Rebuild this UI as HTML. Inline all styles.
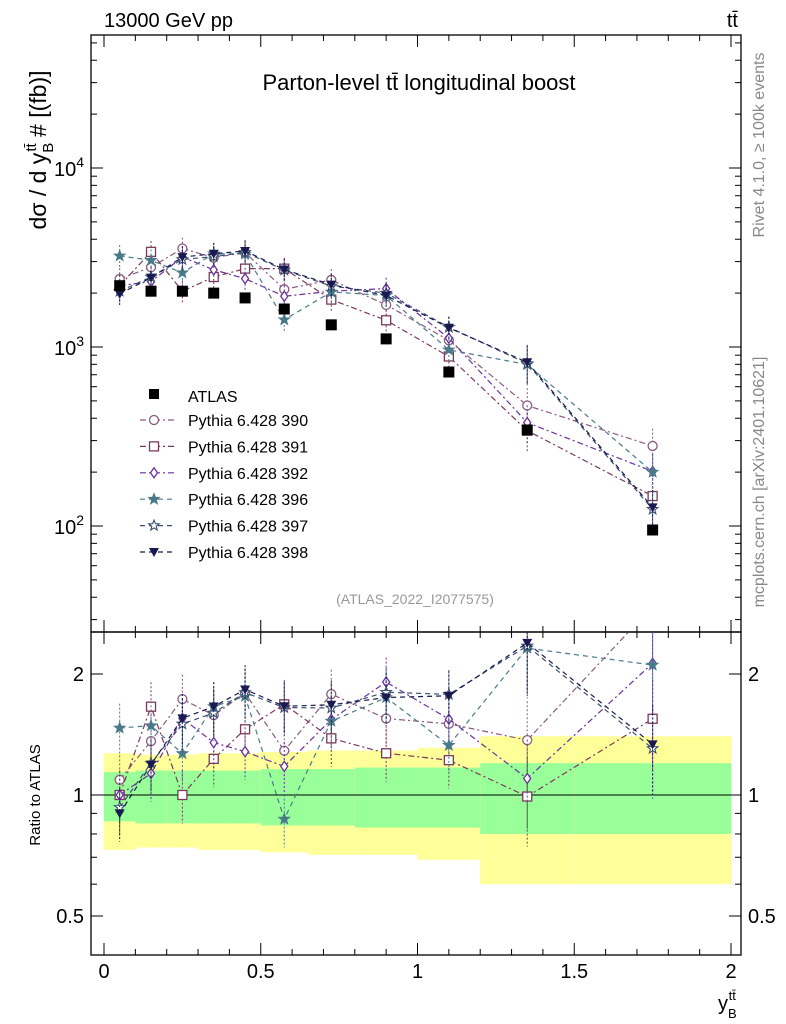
<!DOCTYPE html>
<html><head><meta charset="utf-8"><style>
body{margin:0;background:#fff;}
svg{display:block;font-family:"Liberation Sans",sans-serif;}
</style></head><body>
<svg id="chart" width="786" height="1024" viewBox="0 0 786 1024" xmlns="http://www.w3.org/2000/svg">
<text x="104" y="27" font-size="20">13000 GeV pp</text>
<text x="738" y="27" font-size="20" text-anchor="end">tt̄</text>
<text x="419" y="90" font-size="22" text-anchor="middle">Parton-level tt̄ longitudinal boost</text>
<text x="415" y="604" font-size="14" fill="#999" text-anchor="middle">(ATLAS_2022_I2077575)</text>
<text transform="translate(764,145) rotate(-90)" font-size="16" fill="#888" text-anchor="middle">Rivet 4.1.0, ≥ 100k events</text>
<text transform="translate(764,482) rotate(-90)" font-size="16" fill="#888" text-anchor="middle">mcplots.cern.ch [arXiv:2401.10621]</text>
<text transform="translate(46,150) rotate(-90)" font-size="23" text-anchor="middle">dσ / d y<tspan font-size="15" dy="7">B</tspan><tspan font-size="15" dy="-17" dx="-9">tt̄</tspan><tspan dy="10"> # [(fb)]</tspan></text>
<text transform="translate(40,795) rotate(-90)" font-size="15" text-anchor="middle">Ratio to ATLAS</text>
<text x="718" y="1010" font-size="20">y<tspan font-size="13" dy="8">B</tspan><tspan font-size="13" dy="-18" dx="-8">tt̄</tspan></text>
<g id="g"></g>
</svg>
<script>
const edges=[0,0.1,0.2,0.3,0.4,0.5,0.65,0.8,1.0,1.2,1.5,2.0];
const centers=[0.05,0.15,0.25,0.35,0.45,0.575,0.725,0.9,1.1,1.35,1.75];
const atlas=[2200,2050,2050,2000,1880,1630,1330,1110,725,344,95];
const green=[0.14,0.15,0.15,0.15,0.15,0.16,0.16,0.17,0.17,0.20,0.20];
const yellow=[0.27,0.26,0.26,0.27,0.27,0.28,0.29,0.29,0.31,0.40,0.40];
const s390=[2400,2790,3550,3160,3370,2100,2370,1720,1090,471,280];
const s391=[2200,3400,2050,2460,2740,2740,1840,1410,885,341,147];
const s392=[2200,2320,3180,2700,2410,1920,2050,2120,1120,378,202];
const s396=[3230,3050,2600,3320,3310,1420,2030,1940,964,798,200];
const s397=[2050,2460,3080,3200,3380,2690,2190,2000,1290,808,124];
const s398=[1980,2440,3180,3320,3440,2710,2230,1940,1280,822,127];
const series=[
 {n:'390',v:s390,c:'#8a5a80',m:'circle',d:'6,3,2,3'},
 {n:'391',v:s391,c:'#7a3a5a',m:'square',d:'6,3,2,3'},
 {n:'392',v:s392,c:'#6a30a0',m:'diamond',d:'6,3,2,3'},
 {n:'396',v:s396,c:'#4a7a8a',m:'fstar',d:'5,4'},
 {n:'397',v:s397,c:'#3a5070',m:'ostar',d:'5,4'},
 {n:'398',v:s398,c:'#1a1a50',m:'tri',d:'5,4'}];
const NS='http://www.w3.org/2000/svg';
const g=document.getElementById('g');
function el(t,a,p){const e=document.createElementNS(NS,t);for(const k in a)e.setAttribute(k,a[k]);(p||g).appendChild(e);return e;}
const X=v=>104+v*313.5;
const Y=v=>347-179*Math.log10(v/1000);
const R=v=>795-121*Math.log2(v);
const L=91,Rt=741,T=35,M=632,B=955;
const bands=el('g',{});

for(let i=0;i<centers.length;i++){
 const a=el('rect',{x:X(edges[i]),width:X(edges[i+1])-X(edges[i]),y:R(1+yellow[i]),height:R(1-yellow[i])-R(1+yellow[i]),fill:'#ffff99'},bands);
 
 const b=el('rect',{x:X(edges[i]),width:X(edges[i+1])-X(edges[i]),y:R(1+green[i]),height:R(1-green[i])-R(1+green[i]),fill:'#99ff99'},bands);
 
}
el('line',{x1:L,x2:Rt,y1:R(1),y2:R(1),stroke:'#000','stroke-width':1});
const f1=el('rect',{x:L,y:T,width:Rt-L,height:M-T,fill:'none',stroke:'#000','stroke-width':1.3});

const f2=el('rect',{x:L,y:M,width:Rt-L,height:B-M,fill:'none',stroke:'#000','stroke-width':1.3});

for(let v=0;v<=2.001;v+=0.1){const big=Math.abs(v*2-Math.round(v*2))<1e-6;const h=big?12:6;
 for(const [yb,yt] of [[M,T],[B,M]]){el('line',{x1:X(v),x2:X(v),y1:yb,y2:yb-h,stroke:'#000'});el('line',{x1:X(v),x2:X(v),y1:yt,y2:yt+h,stroke:'#000'});}}
const xt=['0','0.5','1','1.5','2'];
xt.forEach((t,i)=>{const e=el('text',{x:X(i*0.5),y:978,'font-size':20,'text-anchor':'middle'});e.textContent=t;});
for(let d=10;d<=1e5;d*=10)for(let k=1;k<10;k++){const v=d*k;const y=Y(v);if(y<T||y>M)continue;const h=k==1?12:6;
 el('line',{x1:L,x2:L+h,y1:y,y2:y,stroke:'#000'});el('line',{x1:Rt,x2:Rt-h,y1:y,y2:y,stroke:'#000'});}
[2,3,4].forEach(p=>{const e=el('text',{x:84,y:Y(Math.pow(10,p))+8,'font-size':20,'text-anchor':'end'});e.innerHTML='10<tspan font-size="14" dy="-9">'+p+'</tspan>';});
[0.5,0.6,0.7,0.8,0.9,1,2].forEach(v=>{const h=(v==0.5||v==1||v==2)?12:6;const y=R(v);el('line',{x1:L,x2:L+h,y1:y,y2:y,stroke:'#000'});el('line',{x1:Rt,x2:Rt-h,y1:y,y2:y,stroke:'#000'});});
[[2,'2'],[1,'1'],[0.5,'0.5']].forEach(([v,t])=>{for(const [x,a] of [[84,'end'],[748,'start']]){const e=el('text',{x:x,y:R(v)+7,'font-size':20,'text-anchor':a});e.textContent=t;}});
function marker(m,x,y,c,p){
 if(m=='circle')return el('circle',{cx:x,cy:y,r:4.5,fill:'#fff',stroke:c,'stroke-width':1.3},p);
 if(m=='square')return el('rect',{x:x-4.5,y:y-4.5,width:9,height:9,fill:'#fff',stroke:c,'stroke-width':1.3},p);
 if(m=='diamond')return el('path',{d:`M${x},${y-5}L${x+3.5},${y}L${x},${y+5}L${x-3.5},${y}Z`,fill:'#fff',stroke:c,'stroke-width':1.3},p);
 if(m=='tri')return el('path',{d:`M${x-5},${y-4}L${x+5},${y-4}L${x},${y+5}Z`,fill:c},p);
 let d='';for(let k=0;k<10;k++){const r=k%2?2.3:5.5,a=-Math.PI/2+k*Math.PI/5;d+=(k?'L':'M')+(x+r*Math.cos(a)).toFixed(1)+','+(y+r*Math.sin(a)).toFixed(1);}d+='Z';
 return el('path',{d:d,fill:m=='fstar'?c:'#fff',stroke:c,'stroke-width':1.1},p);
}
const clip=el('clipPath',{id:'cm'});el('rect',{x:L,y:T,width:Rt-L,height:M-T},clip);
const clip2=el('clipPath',{id:'cr'});el('rect',{x:L,y:M,width:Rt-L,height:B-M},clip2);
series.forEach(s=>{
 const gm=el('g',{'clip-path':'url(#cm)'});
 const gr=el('g',{'clip-path':'url(#cr)'});
 const pm=[],pr=[];
 s.v.forEach((v,i)=>{const e=i>=9?0.25:0.15;const x=X(centers[i]);
  pm.push(x+','+Y(v));const r=v/atlas[i];pr.push(x+','+R(r));
  el('line',{x1:x,x2:x,y1:Y(v*(1+e)),y2:Y(v*(1-e)),stroke:s.c,'stroke-dasharray':'2,2'},gm);
  el('line',{x1:x,x2:x,y1:R(r*(1+e)),y2:R(r*(1-e)),stroke:s.c,'stroke-dasharray':'2,2'},gr);
 });
 el('polyline',{points:pm.join(' '),fill:'none',stroke:s.c,'stroke-width':1.2,'stroke-dasharray':s.d},gm);
 el('polyline',{points:pr.join(' '),fill:'none',stroke:s.c,'stroke-width':1.2,'stroke-dasharray':s.d},gr);
 s.v.forEach((v,i)=>{const x=X(centers[i]);marker(s.m,x,Y(v),s.c,gm);marker(s.m,x,R(v/atlas[i]),s.c,gr);});
});
const ga=el('g',{});
atlas.forEach((v,i)=>{const x=X(centers[i]);const p=el('rect',{x:x-5.5,y:Y(v)-5.5,width:11,height:11,fill:'#000'},ga);});
const lg=el('g',{});
el('rect',{x:149,y:389,width:10,height:10,fill:'#000'},lg);
let t=el('text',{x:188,y:402,'font-size':16},lg);t.textContent='ATLAS';
series.forEach((s,i)=>{const y=420+i*26.4;
 el('line',{x1:140,x2:176,y1:y,y2:y,stroke:s.c,'stroke-dasharray':s.d,'stroke-width':1.2},lg);
 marker(s.m,154,y,s.c,lg);
 const e=el('text',{x:188,y:y+6,'font-size':16},lg);e.textContent='Pythia 6.428 '+s.n;
 });
</script>
</body></html>
